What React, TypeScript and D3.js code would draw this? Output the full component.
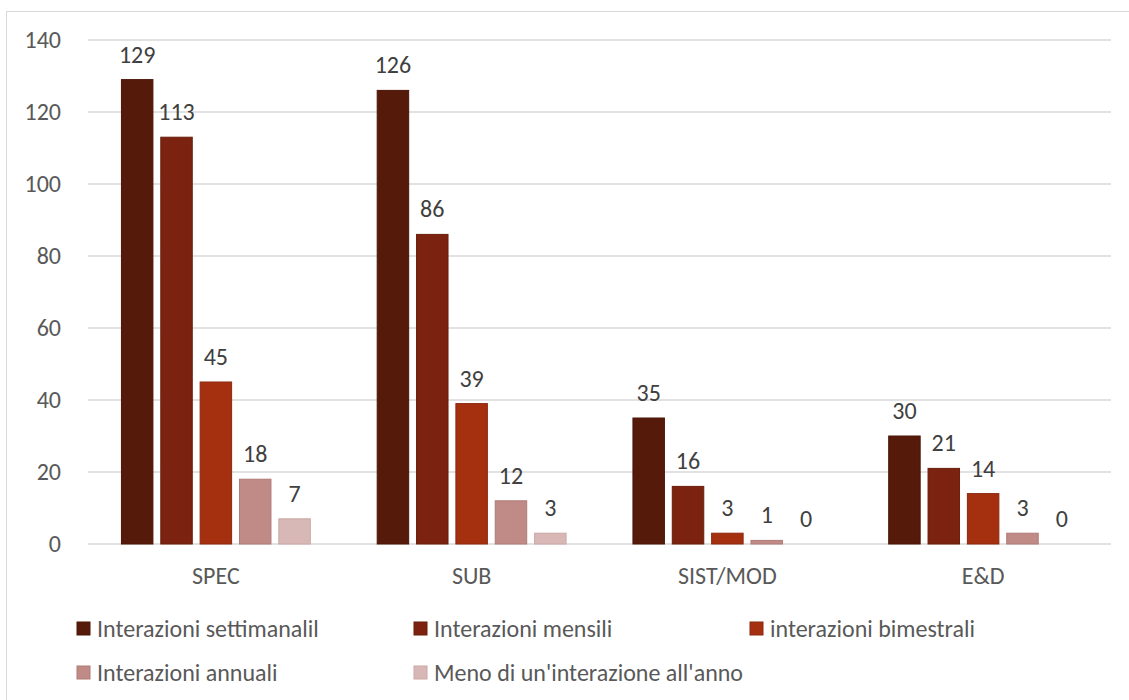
import React from "react";
import { scaleBand, scaleLinear } from "d3";

// categories and series
const categories = ["SPEC", "SUB", "SIST/MOD", "E&D"];
const seriesNames = [
  "Interazioni settimanalil",
  "Interazioni mensili",
  "interazioni bimestrali",
  "Interazioni annuali",
  "Meno di un'interazione all'anno",
];
const settimanali = [129, 126, 35, 30];
const mensili = [113, 86, 16, 21];
const bimestrali = [45, 39, 3, 14];
const annuali = [18, 12, 1, 3];
const menoAnno = [7, 3, 0, 0];
const yTicks = [0, 20, 40, 60, 80, 100, 120, 140];

const seriesValues = [settimanali, mensili, bimestrali, annuali, menoAnno];
const colors = ["#561a0a", "#7b2310", "#a53010", "#c08a87", "#d8b8b6"];
const strokes = ["#4a1608", "#6a1e0d", "#8a280d", "#b07a77", "#caa8a6"];

const W = 1129;
const H = 700;
const FONT = "Carlito, Calibri, Lato, sans-serif";
const FS = 24;

export default function App() {
  const left = 88, right = 1111, top = 40, bottom = 544;

  const x0 = scaleBand<string>().domain(categories).range([left, right]);
  const x1 = scaleBand<number>()
    .domain(seriesNames.map((_, i) => i))
    .range([0, x0.bandwidth()])
    .paddingInner(0.2)
    .paddingOuter(0.85);
  const y = scaleLinear().domain([0, 140]).range([bottom, top]);

  // legend layout: 3 columns, 2 rows
  const legendCols = [77, 414, 750];
  const legendRows = [629, 673];

  return (
    <svg
      width={W}
      height={H}
      style={{ position: "absolute", left: 0, top: 0, background: "#fff" }}
      fontFamily={FONT}
    >
      <rect x={6.5} y={11.5} width={W} height={H} fill="#fff" stroke="#d9d9d9" />

      {/* gridlines and y axis labels */}
      {yTicks.map((t) => (
        <g key={t}>
          <line x1={left} x2={right} y1={y(t)} y2={y(t)} stroke="#d9d9d9" strokeWidth={1.3} />
          <text x={61} y={y(t)} dy="0.35em" textAnchor="end" fontSize={FS} fill="#595959">
            {t}
          </text>
        </g>
      ))}

      {/* bars */}
      {categories.map((c, ci) => (
        <g key={c} transform={`translate(${x0(c)},0)`}>
          {seriesValues.map((vals, si) => {
            const v = vals[ci];
            const bx = x1(si)!;
            const bw = x1.bandwidth();
            return (
              <g key={si}>
                {v > 0 && (
                  <rect
                    x={bx}
                    y={y(v)}
                    width={bw}
                    height={y(0) - y(v)}
                    fill={colors[si]}
                    stroke={strokes[si]}
                    strokeWidth={1}
                  />
                )}
                <text
                  x={bx + bw / 2}
                  y={y(v) - 17}
                  textAnchor="middle"
                  fontSize={FS}
                  fill="#404040"
                >
                  {v}
                </text>
              </g>
            );
          })}
          <text
            x={x0.bandwidth() / 2}
            y={576}
            dy="0.35em"
            textAnchor="middle"
            fontSize={FS}
            fill="#595959"
          >
            {c}
          </text>
        </g>
      ))}

      {/* legend */}
      {seriesNames.map((name, i) => {
        const lx = legendCols[i % 3];
        const ly = legendRows[Math.floor(i / 3)];
        return (
          <g key={name}>
            <rect x={lx} y={ly - 7} width={13} height={13} fill={colors[i]} stroke={strokes[i]} />
            <text x={lx + 20} y={ly} dy="0.35em" fontSize={FS} fill="#595959">
              {name}
            </text>
          </g>
        );
      })}
    </svg>
  );
}
